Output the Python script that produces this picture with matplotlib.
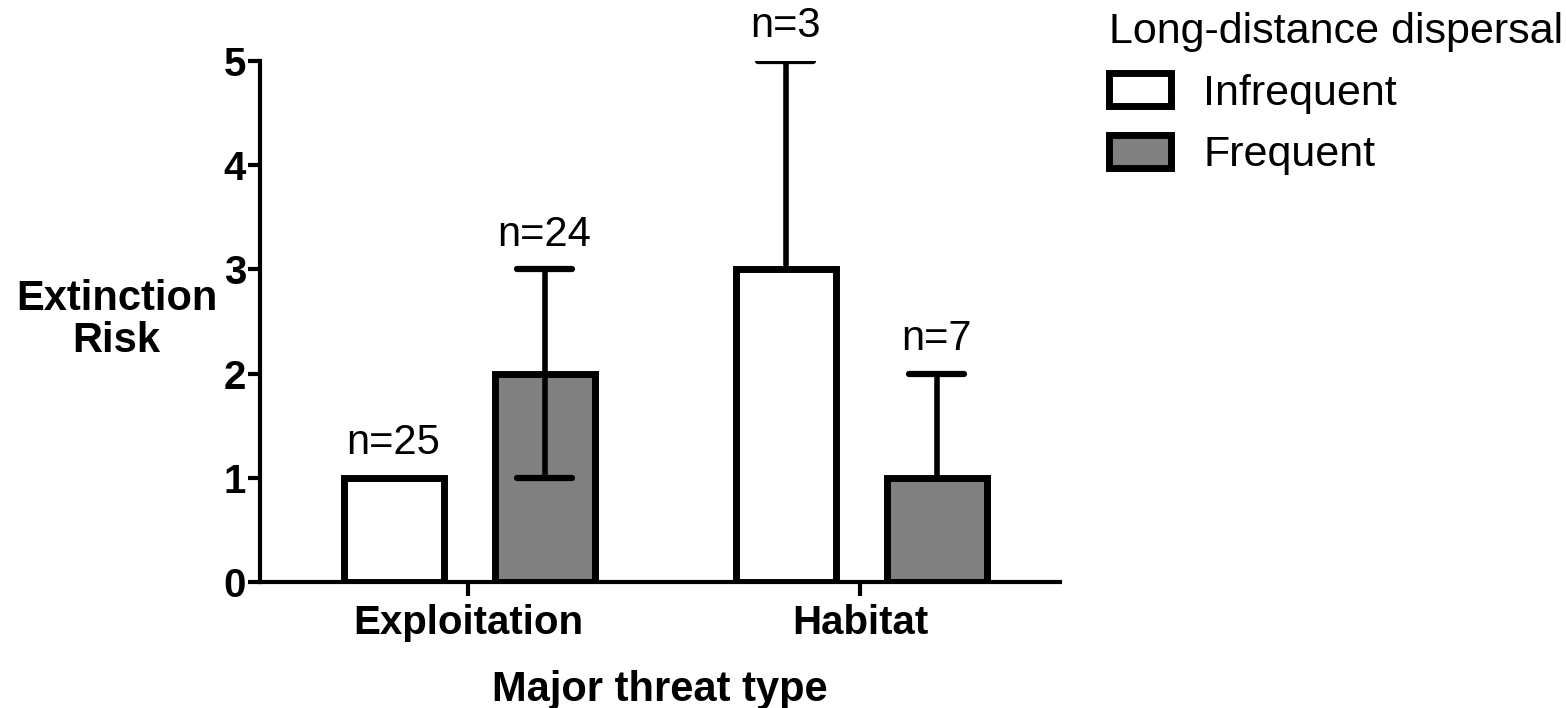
import numpy as np
import matplotlib
matplotlib.use('Agg')
import matplotlib.pyplot as plt
from matplotlib.patches import Patch

# Data.
threats = ['Exploitation', 'Habitat']
groups = ['Infrequent', 'Frequent']
risk = {'Infrequent': [1, 3], 'Frequent': [2, 1]}
err_low = {'Infrequent': [0, 0], 'Frequent': [1, 0]}
err_high = {'Infrequent': [0, 2], 'Frequent': [1, 1]}
counts = {'Infrequent': ['n=25', 'n=3'], 'Frequent': ['n=24', 'n=7']}
colors = {'Infrequent': 'white', 'Frequent': '#808080'}

plt.rcParams['font.family'] = ['Liberation Sans', 'DejaVu Sans']

fig = plt.figure(figsize=(15.66, 7.08), dpi=100)
ax = fig.add_axes([0.166, 0.178, 0.511, 0.736])

x = np.arange(len(threats))
offsets = {'Infrequent': -0.19, 'Frequent': 0.195}
width = 0.255

for g in groups:
    pos = x + offsets[g]
    ax.bar(pos, risk[g], width, color=colors[g], edgecolor='black',
           linewidth=5, zorder=2)
    hi = np.array(risk[g]) + np.array(err_high[g])
    lo = np.array(risk[g]) - np.array(err_low[g])
    for p, v, h, l in zip(pos, risk[g], hi, lo):
        if h > v:
            ax.plot([p, p], [v, h], color='black', lw=4, zorder=3,
                    solid_capstyle='butt')
            ax.plot([p - 0.07, p + 0.07], [h, h], color='black', lw=4.5,
                    zorder=3, solid_capstyle='round')
        if l < v:
            ax.plot([p, p], [l, v], color='black', lw=4, zorder=3,
                    solid_capstyle='butt')
            ax.plot([p - 0.07, p + 0.07], [l, l], color='black', lw=4.5,
                    zorder=3, solid_capstyle='round')
    for p, h, t in zip(pos, hi, counts[g]):
        ax.annotate(t, (p, h), xytext=(0, 25), textcoords='offset points',
                    ha='center', va='center', fontsize=30)

ax.set_xlim(-0.531, 1.51)
ax.set_ylim(0, 5)
ax.set_yticks(range(6))
ax.set_xticks(x)
ax.set_xticklabels(threats, fontsize=29, fontweight='bold')
ax.tick_params(axis='y', labelsize=29, width=3, length=9, pad=1)
ax.tick_params(axis='x', width=3, length=10, pad=6)
for lab in ax.get_yticklabels():
    lab.set_fontweight('bold')

for s in ['top', 'right']:
    ax.spines[s].set_visible(False)
ax.spines['left'].set_linewidth(3)
ax.spines['bottom'].set_linewidth(3)

ax.set_ylabel('Extinction\nRisk', fontsize=30, fontweight='bold',
              rotation=0, ha='center', va='center', linespacing=1.05)
ax.yaxis.set_label_coords(-0.179, 0.503)
ax.set_xlabel('Major threat type', fontsize=30, fontweight='bold',
              va='center')
ax.xaxis.set_label_coords(0.5, -0.207)

handles = [Patch(facecolor=colors[g], edgecolor='black', linewidth=5)
           for g in groups]
leg = fig.legend(handles, groups, title='Long-distance dispersal',
                 loc='upper left', bbox_to_anchor=(0.697, 1.008),
                 frameon=False, fontsize=31, title_fontsize=31,
                 handlelength=1.45, handleheight=0.8, handletextpad=0.75,
                 labelspacing=0.5, borderaxespad=0)
leg._legend_box.align = 'left'

fig.savefig('out.png', dpi=100)
